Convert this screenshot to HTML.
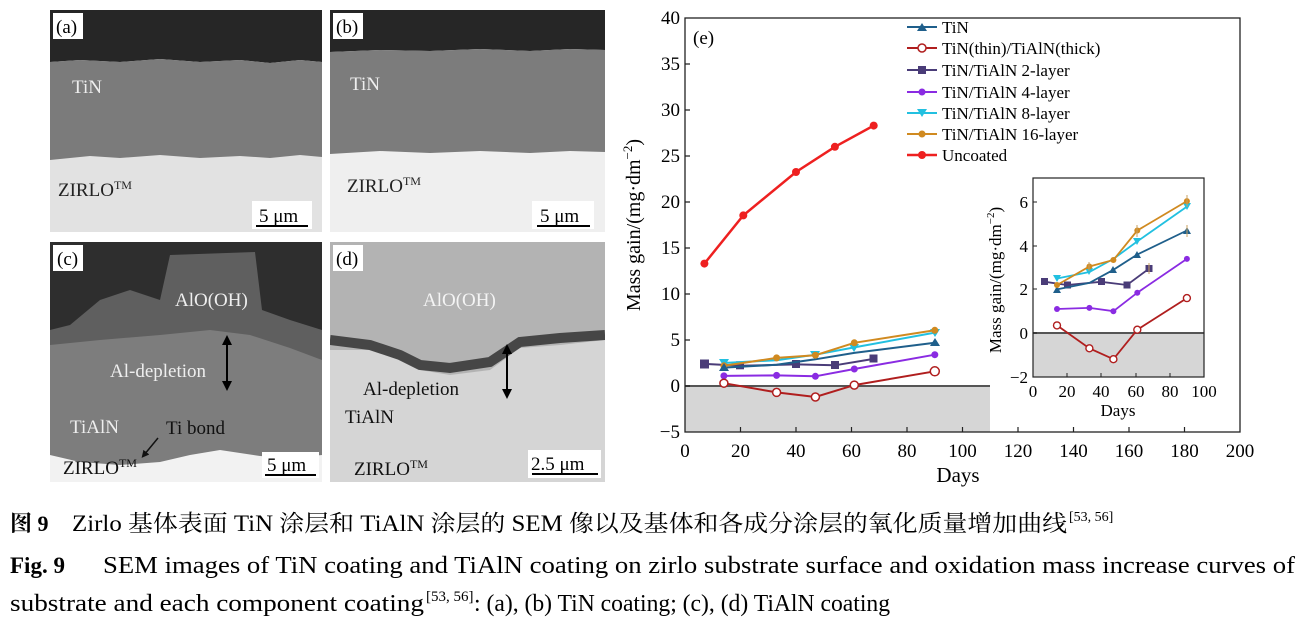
<!DOCTYPE html>
<html><head><meta charset="utf-8"><style>
html,body{margin:0;padding:0;background:#fff;}
svg{display:block;}
text{font-family:"Liberation Serif","Noto Serif CJK SC",serif;}
</style></head><body>
<svg width="1304" height="636" viewBox="0 0 1304 636" xmlns="http://www.w3.org/2000/svg">
<defs>
<clipPath id="cd"><rect x="330" y="242" width="275" height="240"/></clipPath>
<marker id="ar" viewBox="0 0 10 10" refX="5" refY="5" markerWidth="5" markerHeight="5" orient="auto-start-reverse"><path d="M0,0L10,5L0,10z" fill="#000"/></marker>
<marker id="arw" viewBox="0 0 10 10" refX="5" refY="5" markerWidth="5" markerHeight="5" orient="auto"><path d="M0,0L10,5L0,10z" fill="#111"/></marker>
</defs>

<g>
<rect x="50" y="10" width="272" height="222" fill="#e2e2e2"/>
<path d="M50,10H322V62L300,60L270,63L240,60L200,62L160,59L120,62L80,60L50,62Z" fill="#262626"/>
<path d="M50,62L80,60L120,62L160,59L200,62L240,60L270,63L300,60L322,62V157L300,155L270,158L240,156L200,158L160,155L120,158L90,156L50,160Z" fill="#7b7b7b"/>
<rect x="53" y="13" width="30" height="26" fill="#fff"/>
<text x="56" y="33" font-size="19">(a)</text>
<text x="72" y="93" font-size="19" fill="#eee">TiN</text>
<text x="58" y="196" font-size="19" fill="#222">ZIRLO<tspan font-size="12" dy="-7">TM</tspan></text>
<rect x="252" y="201" width="60" height="28" fill="#fff"/>
<text x="259" y="222" font-size="19">5 μm</text>
<line x1="256" y1="226" x2="308" y2="226" stroke="#000" stroke-width="2"/>
</g>
<g>
<rect x="330" y="10" width="275" height="222" fill="#efefef"/>
<path d="M330,10H605V50L570,49L530,51L480,49L430,51L380,50L330,52Z" fill="#262626"/>
<path d="M330,52L380,50L430,51L480,49L530,51L570,49L605,50V152L570,151L530,153L480,151L430,153L380,151L330,154Z" fill="#7c7c7c"/>
<rect x="333" y="13" width="30" height="26" fill="#fff"/>
<text x="336" y="33" font-size="19">(b)</text>
<text x="350" y="90" font-size="19" fill="#eee">TiN</text>
<text x="347" y="192" font-size="19" fill="#222">ZIRLO<tspan font-size="12" dy="-7">TM</tspan></text>
<rect x="532" y="201" width="62" height="28" fill="#fff"/>
<text x="540" y="222" font-size="19">5 μm</text>
<line x1="537" y1="226" x2="590" y2="226" stroke="#000" stroke-width="2"/>
</g>
<g>
<rect x="50" y="242" width="272" height="240" fill="#2e2e2e"/>
<path d="M50,482V330L70,325L100,300L130,290L160,300L170,255L255,252L262,310L290,320L322,330V482Z" fill="#5f5f5f"/>
<path d="M50,482V345L100,340L160,335L210,330L250,335L290,348L322,360V482Z" fill="#7d7d7d"/>
<path d="M50,482V455L80,462L120,465L160,462L190,455L220,450L260,456L290,458L322,455V482Z" fill="#f2f2f2"/>
<rect x="53" y="245" width="30" height="26" fill="#fff"/>
<text x="57" y="265" font-size="19">(c)</text>
<text x="175" y="306" font-size="19" fill="#eee">AlO(OH)</text>
<text x="110" y="377" font-size="19" fill="#eee">Al-depletion</text>
<line x1="227" y1="340" x2="227" y2="386" stroke="#000" stroke-width="2" marker-start="url(#ar)" marker-end="url(#ar)"/>
<text x="70" y="433" font-size="19" fill="#eee">TiAlN</text>
<text x="166" y="434" font-size="19" fill="#111">Ti bond</text>
<line x1="158" y1="438" x2="144" y2="455" stroke="#111" stroke-width="1.5" marker-end="url(#arw)"/>
<text x="63" y="474" font-size="19" fill="#111">ZIRLO<tspan font-size="12" dy="-7">TM</tspan></text>
<rect x="262" y="452" width="57" height="26" fill="#fff"/>
<text x="267" y="471" font-size="19">5 μm</text>
<line x1="265" y1="475" x2="316" y2="475" stroke="#000" stroke-width="2"/>
</g>
<g clip-path="url(#cd)">
<rect x="330" y="242" width="275" height="240" fill="#d5d5d5"/>
<path d="M330,242H605V340L560,345L520,348L490,370L450,375L420,370L400,360L370,350L330,350Z" fill="#b3b3b3"/>
<path d="M330,340L370,345L400,355L420,365L450,368L490,362L520,342L560,338L605,335" fill="none" stroke="#2a2a2a" stroke-width="10" opacity="0.8"/>
<rect x="333" y="245" width="30" height="26" fill="#fff"/>
<text x="336" y="265" font-size="19">(d)</text>
<text x="423" y="306" font-size="19" fill="#f4f4f4">AlO(OH)</text>
<text x="363" y="395" font-size="19" fill="#111">Al-depletion</text>
<line x1="507" y1="349" x2="507" y2="394" stroke="#000" stroke-width="2" marker-start="url(#ar)" marker-end="url(#ar)"/>
<text x="345" y="423" font-size="19" fill="#111">TiAlN</text>
<text x="354" y="475" font-size="19" fill="#111">ZIRLO<tspan font-size="12" dy="-7">TM</tspan></text>
<rect x="528" y="450" width="73" height="28" fill="#fff"/>
<text x="531" y="470" font-size="19">2.5 μm</text>
<line x1="532" y1="474" x2="598" y2="474" stroke="#000" stroke-width="2"/>
</g>

<g>
<rect x="685" y="386" width="305" height="46" fill="#d6d6d6"/>
<line x1="685" y1="386" x2="990" y2="386" stroke="#555" stroke-width="2"/>
<rect x="685" y="18" width="555" height="414" fill="none" stroke="#222" stroke-width="1.3"/>
<g stroke="#222" stroke-width="1.2">
<path d="M740.5,432v-5M796,432v-5M851.5,432v-5M907,432v-5M962.5,432v-5M1018,432v-5M1073.5,432v-5M1129,432v-5M1184.5,432v-5"/>
<path d="M685,386h5M685,340h5M685,294h5M685,248h5M685,202h5M685,156h5M685,110h5M685,64h5"/>
</g>
<g font-size="19" text-anchor="end">
<text x="680" y="24">40</text><text x="680" y="70">35</text><text x="680" y="116">30</text><text x="680" y="162">25</text>
<text x="680" y="208">20</text><text x="680" y="254">15</text><text x="680" y="300">10</text><text x="680" y="346">5</text>
<text x="680" y="392">0</text><text x="680" y="438">−5</text>
</g>
<g font-size="19" text-anchor="middle">
<text x="685" y="457">0</text><text x="740.5" y="457">20</text><text x="796" y="457">40</text><text x="851.5" y="457">60</text>
<text x="907" y="457">80</text><text x="962.5" y="457">100</text><text x="1018" y="457">120</text><text x="1073.5" y="457">140</text>
<text x="1129" y="457">160</text><text x="1184.5" y="457">180</text><text x="1240" y="457">200</text>
<text x="958" y="482" font-size="21">Days</text>
</g>
<text transform="translate(640,225) rotate(-90)" font-size="20" text-anchor="middle">Mass gain/(mg·dm<tspan font-size="13" dy="-8">−2</tspan><tspan dy="8">)</tspan></text>
<text x="693" y="44" font-size="19">(e)</text>

<polyline points="704.4,263.6 743.3,215.4 796,172 834.9,146.8 873.7,125.6" fill="none" stroke="#ee2020" stroke-width="2.5"/>
<g fill="#ee2020"><circle cx="704.4" cy="263.6" r="4"/><circle cx="743.3" cy="215.4" r="4"/><circle cx="796" cy="172" r="4"/><circle cx="834.9" cy="146.8" r="4"/><circle cx="873.7" cy="125.6" r="4"/></g>
<polyline points="704.4,363.9 740.5,365.8 796,364.4 834.9,365.3 873.7,358.9" fill="none" stroke="#4a3c78" stroke-width="2"/>
<g fill="#4a3c78"><rect x="700" y="359.5" width="9" height="9"/><rect x="736" y="361.3" width="8" height="8"/><rect x="792" y="360" width="8" height="8"/><rect x="831" y="361" width="8" height="8"/><rect x="869.5" y="354.5" width="8" height="8"/></g>
<polyline points="723.9,375.9 776.6,375.4 815.4,376.3 854.3,369 934.8,354.7" fill="none" stroke="#8a2be2" stroke-width="2"/>
<g fill="#8a2be2"><circle cx="723.9" cy="375.9" r="3.5"/><circle cx="776.6" cy="375.4" r="3.5"/><circle cx="815.4" cy="376.3" r="3.5"/><circle cx="854.3" cy="369" r="3.5"/><circle cx="934.8" cy="354.7" r="3.5"/></g>
<polyline points="723.9,367.6 776.6,364.8 815.4,359.3 854.3,352.9 934.8,342.8" fill="none" stroke="#1f5f8b" stroke-width="2"/>
<polyline points="723.9,363 776.6,360.2 815.4,354.7 854.3,347.4 934.8,332.6" fill="none" stroke="#22c0e0" stroke-width="2"/>
<g fill="#22c0e0"><path d="M719,359h10l-5,8z"/><path d="M810,351h10l-5,8z"/><path d="M849,344h10l-5,8z"/><path d="M930,329h10l-5,8z"/></g>
<polyline points="723.9,365.8 776.6,357.9 815.4,355.2 854.3,342.8 934.8,330.3" fill="none" stroke="#d08a20" stroke-width="2"/>
<g fill="#d08a20"><circle cx="723.9" cy="365.8" r="3.5"/><circle cx="776.6" cy="357.9" r="3.5"/><circle cx="815.4" cy="355.2" r="3.5"/><circle cx="854.3" cy="342.8" r="3.5"/><circle cx="934.8" cy="330.3" r="3.5"/></g>
<g fill="#1f5f8b"><path d="M719,371h10l-5,-8z"/><path d="M930,346h10l-5,-8z"/></g>
<polyline points="723.9,383.2 776.6,392.4 815.4,397 854.3,385.1 934.8,371.3" fill="none" stroke="#b01e1e" stroke-width="2"/>
<g fill="#fff" stroke="#b01e1e" stroke-width="1.5"><circle cx="723.9" cy="383.2" r="4"/><circle cx="776.6" cy="392.4" r="4"/><circle cx="815.4" cy="397" r="4"/><circle cx="854.3" cy="385.1" r="4"/><circle cx="934.8" cy="371.3" r="4.5"/></g>

<g font-size="17">
<line x1="907" y1="27" x2="937" y2="27" stroke="#1f5f8b" stroke-width="2"/><path d="M917,31h10l-5,-8z" fill="#1f5f8b"/><text x="942" y="33">TiN</text>
<line x1="907" y1="48" x2="937" y2="48" stroke="#b01e1e" stroke-width="2"/><circle cx="922" cy="48" r="4" fill="#fff" stroke="#b01e1e" stroke-width="1.5"/><text x="942" y="54">TiN(thin)/TiAlN(thick)</text>
<line x1="907" y1="70" x2="937" y2="70" stroke="#4a3c78" stroke-width="2"/><rect x="918" y="66" width="8" height="8" fill="#4a3c78"/><text x="942" y="76">TiN/TiAlN 2-layer</text>
<line x1="907" y1="92" x2="937" y2="92" stroke="#8a2be2" stroke-width="2"/><circle cx="922" cy="92" r="3.5" fill="#8a2be2"/><text x="942" y="98">TiN/TiAlN 4-layer</text>
<line x1="907" y1="113" x2="937" y2="113" stroke="#22c0e0" stroke-width="2"/><path d="M917,109h10l-5,8z" fill="#22c0e0"/><text x="942" y="119">TiN/TiAlN 8-layer</text>
<line x1="907" y1="134" x2="937" y2="134" stroke="#d08a20" stroke-width="2"/><circle cx="922" cy="134" r="3.5" fill="#d08a20"/><text x="942" y="140">TiN/TiAlN 16-layer</text>
<line x1="907" y1="155" x2="937" y2="155" stroke="#ee2020" stroke-width="2.5"/><circle cx="922" cy="155" r="4" fill="#ee2020"/><text x="942" y="161">Uncoated</text>
</g>

<rect x="1033" y="333" width="171" height="44" fill="#d6d6d6"/>
<line x1="1033" y1="333" x2="1204" y2="333" stroke="#555" stroke-width="2"/>
<rect x="1033" y="178" width="171" height="199" fill="none" stroke="#222" stroke-width="1.2"/>
<g stroke="#222"><path d="M1067,377v-4M1101,377v-4M1136,377v-4M1170,377v-4M1033,202h4M1033,246h4M1033,289h4M1033,333h4"/></g>
<g font-size="17" text-anchor="end"><text x="1028" y="208">6</text><text x="1028" y="252">4</text><text x="1028" y="295">2</text><text x="1028" y="339">0</text><text x="1028" y="383">−2</text></g>
<g font-size="17" text-anchor="middle"><text x="1033" y="397">0</text><text x="1067" y="397">20</text><text x="1101" y="397">40</text><text x="1136" y="397">60</text><text x="1170" y="397">80</text><text x="1204" y="397">100</text><text x="1118" y="416">Days</text></g>
<text transform="translate(1001,280) rotate(-90)" font-size="17" text-anchor="middle">Mass gain/(mg·dm<tspan font-size="11" dy="-7">−2</tspan><tspan dy="7">)</tspan></text>
<polyline points="1045,281.8 1067,285 1101,281.8 1127,285 1149,268.7" fill="none" stroke="#4a3c78" stroke-width="1.8"/>
<g fill="#4a3c78"><rect x="1041" y="278" width="7" height="7"/><rect x="1064" y="281.5" width="7" height="7"/><rect x="1098" y="278" width="7" height="7"/><rect x="1123.5" y="281.5" width="7" height="7"/><rect x="1145.5" y="265" width="7" height="7"/></g>
<polyline points="1057,309 1089.4,307.9 1113.4,311.2 1137.3,292.7 1186.9,258.9" fill="none" stroke="#8a2be2" stroke-width="1.8"/>
<g fill="#8a2be2"><circle cx="1057" cy="309" r="3"/><circle cx="1089.4" cy="307.9" r="3"/><circle cx="1113.4" cy="311.2" r="3"/><circle cx="1137.3" cy="292.7" r="3"/><circle cx="1186.9" cy="258.9" r="3"/></g>
<polyline points="1057,289.4 1089.4,282.9 1113.4,269.8 1137.3,254.5 1186.9,230.5" fill="none" stroke="#1f5f8b" stroke-width="1.8"/>
<g fill="#1f5f8b"><path d="M1053,293h8l-4,-7z"/><path d="M1109,273h8l-4,-7z"/><path d="M1133,258h8l-4,-7z"/><path d="M1183,234h8l-4,-7z"/></g>
<polyline points="1057,278.5 1089.4,272 1113.4,258.9 1137.3,241.4 1186.9,206.6" fill="none" stroke="#22c0e0" stroke-width="1.8"/>
<g fill="#22c0e0"><path d="M1053,275h8l-4,7z"/><path d="M1085,268h8l-4,7z"/><path d="M1133,238h8l-4,7z"/><path d="M1183,203h8l-4,7z"/></g>
<polyline points="1057,285 1089.4,266.5 1113.4,260 1137.3,230.5 1186.9,201.1" fill="none" stroke="#d08a20" stroke-width="1.8"/>
<g fill="#d08a20"><circle cx="1057" cy="285" r="3"/><circle cx="1089.4" cy="266.5" r="3"/><circle cx="1113.4" cy="260" r="3"/><circle cx="1137.3" cy="230.5" r="3"/><circle cx="1186.9" cy="201.1" r="3"/></g>
<g stroke="#c9a060" stroke-width="1"><path d="M1187,195v12M1137,225v12M1089,262v9M1149,263v11M1187,225v12"/></g>
<polyline points="1057,325.4 1089.4,348.3 1113.4,359.2 1137.3,329.7 1186.9,298.1" fill="none" stroke="#b01e1e" stroke-width="1.8"/>
<g fill="#fff" stroke="#b01e1e" stroke-width="1.4"><circle cx="1057" cy="325.4" r="3.5"/><circle cx="1089.4" cy="348.3" r="3.5"/><circle cx="1113.4" cy="359.2" r="3.5"/><circle cx="1137.3" cy="329.7" r="3.5"/><circle cx="1186.9" cy="298.1" r="3.5"/></g>
</g>

<text x="10" y="531" font-size="22" font-weight="bold">图 9</text>
<text x="72" y="531" font-size="23" textLength="995" lengthAdjust="spacingAndGlyphs">Zirlo 基体表面 TiN 涂层和 TiAlN 涂层的 SEM 像以及基体和各成分涂层的氧化质量增加曲线</text>
<text x="1069" y="521" font-size="14">[53, 56]</text>
<text x="10" y="573" font-size="23" font-weight="bold">Fig. 9</text>
<text x="103" y="573" font-size="24" textLength="1192" lengthAdjust="spacingAndGlyphs">SEM images of TiN coating and TiAlN coating on zirlo substrate surface and oxidation mass increase curves of</text>
<text x="10" y="611" font-size="24" textLength="414" lengthAdjust="spacingAndGlyphs">substrate and each component coating</text>
<text x="426" y="601" font-size="15">[53, 56]</text>
<text x="474" y="611" font-size="24" textLength="416" lengthAdjust="spacingAndGlyphs">: (a), (b) TiN coating; (c), (d) TiAlN coating</text>
</svg>
</body></html>
